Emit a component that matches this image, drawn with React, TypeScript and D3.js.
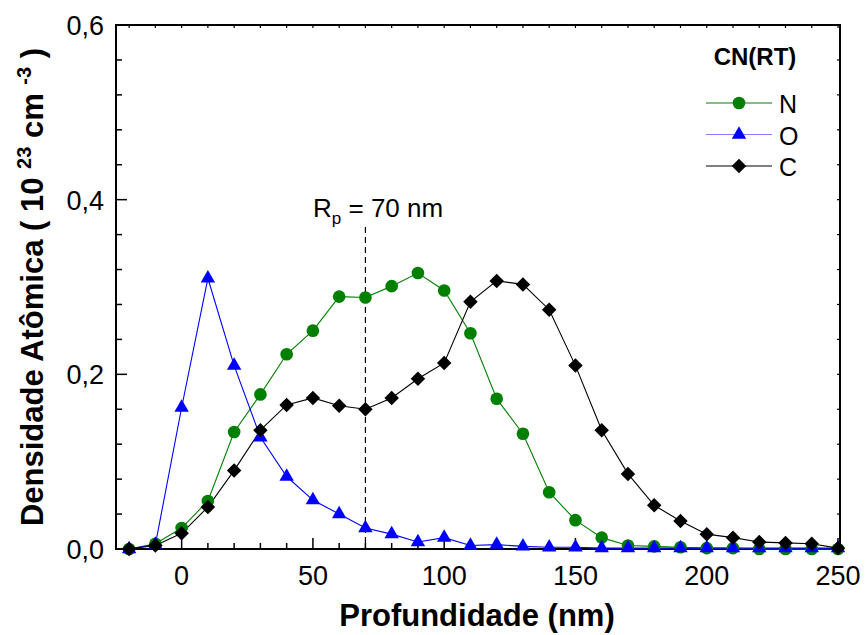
import { useEffect, useRef } from "react";
import * as d3 from "d3";

const depth = [-20, -10, 0, 10, 20, 30, 40, 50, 60, 70, 80, 90, 100, 110, 120, 130, 140, 150, 160, 170, 180, 190, 200, 210, 220, 230, 240, 250];

const nitrogen = [0.0, 0.006, 0.024, 0.055, 0.134, 0.177, 0.223, 0.25, 0.289, 0.288, 0.301, 0.316, 0.296, 0.247, 0.172, 0.132, 0.065, 0.033, 0.013, 0.004, 0.003, 0.002, 0.001, 0.001, 0.0, 0.0, 0.0, 0.0];
const oxygen = [0.0, 0.005, 0.162, 0.31, 0.21, 0.128, 0.083, 0.056, 0.04, 0.024, 0.017, 0.008, 0.013, 0.004, 0.005, 0.003, 0.002, 0.002, 0.001, 0.001, 0.001, 0.001, 0.001, 0.001, 0.001, 0.001, 0.001, 0.001];
const carbon = [0.0, 0.004, 0.018, 0.048, 0.09, 0.136, 0.165, 0.173, 0.164, 0.16, 0.173, 0.195, 0.213, 0.283, 0.307, 0.303, 0.274, 0.21, 0.136, 0.086, 0.05, 0.032, 0.017, 0.013, 0.008, 0.007, 0.006, 0.001];

const xMajor = [0, 50, 100, 150, 200, 250];
const yMajor = [0, 0.2, 0.4, 0.6];

const series = [
  { name: "N", values: nitrogen, color: "#008000", legendLine: "#008000", symbol: d3.symbolCircle, size: 125, rotate: 0 },
  { name: "O", values: oxygen, color: "#0000ff", legendLine: "#7f7fff", symbol: d3.symbolTriangle, size: 90, rotate: 0 },
  { name: "C", values: carbon, color: "#000000", legendLine: "#000000", symbol: d3.symbolSquare, size: 105, rotate: 45 },
];

const font = "'Liberation Sans', Arial, sans-serif";

const App = () => {
  const ref = useRef<SVGSVGElement>(null);
  const width = 867;
  const height = 635;
  const left = 116;
  const right = 838;
  const top = 25;
  const bottom = 549;

  useEffect(() => {
    const svg = d3.select(ref.current);
    svg.selectAll("*").remove();

    const x = d3.scaleLinear().domain([-25, 250]).range([left, right]);
    const y = d3.scaleLinear().domain([0, 0.6]).range([bottom, top]);

    const g = svg.append("g");

    // frame
    g.append("rect")
      .attr("x", left).attr("y", top)
      .attr("width", right - left + 2).attr("height", bottom - top)
      .attr("fill", "none").attr("stroke", "#000").attr("stroke-width", 2);

    // x ticks, pointing in
    const xMinor = d3.range(-20, 251, 10);
    xMinor.forEach((v) => {
      const major = xMajor.includes(v);
      g.append("line")
        .attr("x1", x(v)).attr("x2", x(v))
        .attr("y1", bottom).attr("y2", bottom - (major ? 11 : 6))
        .attr("stroke", "#000").attr("stroke-width", 1.5);
      g.append("line")
        .attr("x1", x(v)).attr("x2", x(v))
        .attr("y1", top).attr("y2", top + 3)
        .attr("stroke", "#000").attr("stroke-width", 1.2);
    });
    g.selectAll(".xl").data(xMajor).enter().append("text")
      .attr("x", (d) => x(d)).attr("y", bottom + 36)
      .attr("text-anchor", "middle")
      .attr("font-family", font).attr("font-size", 27)
      .text((d) => d);

    const yMinor = d3.range(0, 0.601, 0.04);
    yMinor.forEach((v) => {
      const major = yMajor.some((m) => Math.abs(m - v) < 1e-6);
      g.append("line")
        .attr("x1", left).attr("x2", left + (major ? 11 : 6))
        .attr("y1", y(v)).attr("y2", y(v))
        .attr("stroke", "#000").attr("stroke-width", 1.5);
      g.append("line")
        .attr("x1", right + 2).attr("x2", right - 1)
        .attr("y1", y(v)).attr("y2", y(v))
        .attr("stroke", "#000").attr("stroke-width", 1.2);
    });
    g.selectAll(".yl").data(yMajor).enter().append("text")
      .attr("x", left - 12).attr("y", (d) => y(d) + 10)
      .attr("text-anchor", "end")
      .attr("font-family", font).attr("font-size", 27)
      .text((d) => d3.format(".1f")(d).replace(".", ","));

    // Rp dashed line
    g.append("line")
      .attr("x1", x(70)).attr("x2", x(70))
      .attr("y1", 227).attr("y2", bottom)
      .attr("stroke", "#000").attr("stroke-width", 1.2)
      .attr("stroke-dasharray", "6,4");
    const rp = g.append("text")
      .attr("x", 313).attr("y", 217)
      .attr("font-family", font).attr("font-size", 26);
    rp.append("tspan").text("R");
    rp.append("tspan").attr("font-size", 17).attr("dy", 7).text("p");
    rp.append("tspan").attr("dy", -7).text(" = 70 nm");

    // series
    const line = d3.line<number>()
      .x((_, i) => x(depth[i]))
      .y((d) => y(d));

    series.forEach((s) => {
      g.append("path")
        .attr("d", line(s.values))
        .attr("fill", "none")
        .attr("stroke", s.color)
        .attr("stroke-width", 1.1);
    });
    series.forEach((s) => {
      g.selectAll(null).data(s.values).enter().append("path")
        .attr("d", d3.symbol().type(s.symbol).size(s.size)())
        .attr("transform", (d, i) => `translate(${x(depth[i])},${y(d)}) rotate(${s.rotate})`)
        .attr("fill", s.color);
    });

    // legend
    g.append("text")
      .attr("x", 755).attr("y", 65)
      .attr("text-anchor", "middle")
      .attr("font-family", font).attr("font-size", 24).attr("font-weight", "bold")
      .text("CN(RT)");
    series.forEach((s, i) => {
      const ly = 103 + i * 31.5;
      g.append("line")
        .attr("x1", 706).attr("x2", 772)
        .attr("y1", ly).attr("y2", ly)
        .attr("stroke", s.legendLine).attr("stroke-width", 1.2);
      g.append("path")
        .attr("d", d3.symbol().type(s.symbol).size(s.size)())
        .attr("transform", `translate(739,${ly}) rotate(${s.rotate})`)
        .attr("fill", s.color);
      g.append("text")
        .attr("x", 779).attr("y", ly + 10)
        .attr("font-family", font).attr("font-size", 25)
        .text(s.name);
    });

    // axis titles
    g.append("text")
      .attr("x", 477).attr("y", 626)
      .attr("text-anchor", "middle")
      .attr("font-family", font).attr("font-size", 31).attr("font-weight", "bold")
      .text("Profundidade (nm)");

    const yt = g.append("text")
      .attr("transform", `translate(43,287) rotate(-90)`)
      .attr("text-anchor", "middle")
      .attr("font-family", font).attr("font-size", 31).attr("font-weight", "bold");
    yt.append("tspan").text("Densidade Atômica ( 10 ");
    yt.append("tspan").attr("font-size", 20).attr("dy", -12).text("23");
    yt.append("tspan").attr("dy", 12).text(" cm ");
    yt.append("tspan").attr("font-size", 20).attr("dy", -12).text("-3");
    yt.append("tspan").attr("dy", 12).text(" )");
  }, []);

  return (
    <svg
      ref={ref}
      width={width}
      height={height}
      viewBox={`0 0 ${width} ${height}`}
      style={{ position: "absolute", left: 0, top: 0, background: "#fff" }}
    />
  );
};

export default App;
